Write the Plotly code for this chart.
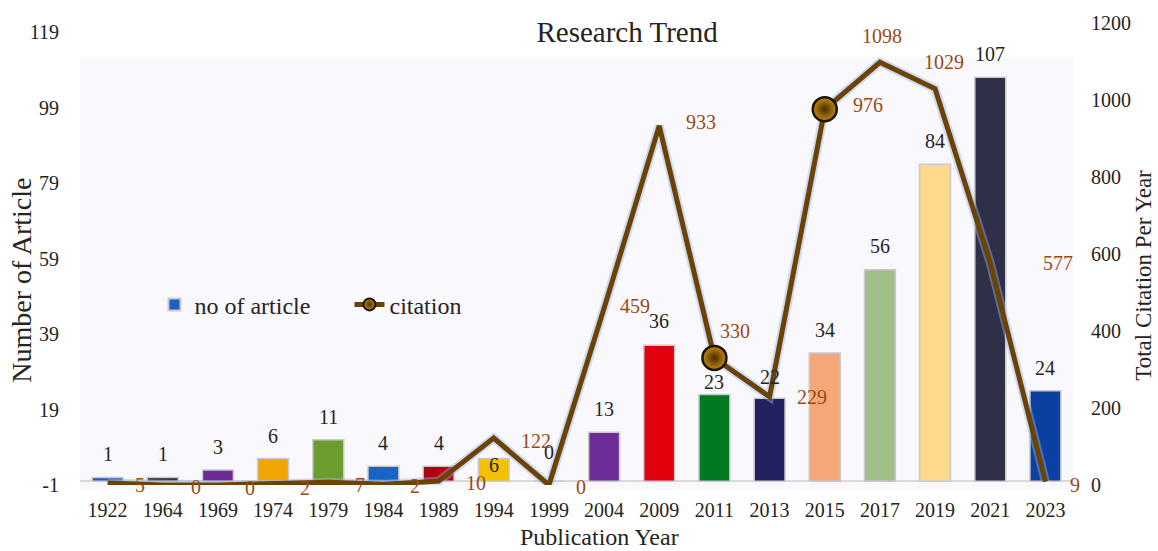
import plotly.graph_objects as go

years = ["1922", "1964", "1969", "1974", "1979", "1984", "1989", "1994", "1999",
         "2004", "2009", "2011", "2013", "2015", "2017", "2019", "2021", "2023"]
articles = [1, 1, 3, 6, 11, 4, 4, 6, 0, 13, 36, 23, 22, 34, 56, 84, 107, 24]
citations = [5, 0, 0, 2, 7, 2, 10, 122, 0, 459, 933, 330, 229, 976, 1098, 1029, 577, 9]
highlighted_years = ["2011", "2015"]
left_ticks = [-1, 19, 39, 59, 79, 99, 119]
right_ticks = [0, 200, 400, 600, 800, 1000, 1200]

bar_colors = ["#1f5fc0", "#2a201c", "#6a2c91", "#f0a500", "#6c9c2e", "#1466c4",
              "#b0000e", "#f2c200", "#888888", "#6d2d99", "#e2000f", "#007a20",
              "#222260", "#f4a878", "#9fbf8a", "#ffd98c", "#2d3047", "#0b3fa0"]

# label offsets (pixels)
bar_dy = [23, 23, 23, 23, 23, 23, 23, -6, 29, 23, 24, 12, 21, 23, 24, 23, 23, 23]
cit_dx = [32, 33, 32, 32, 32, 32, 37, 42, 32, 31, 42, 21, 42, 43, 2, 9, 68, 30]
cit_dy = [-2, -2, -3, -4, -3, -2, -2, -3, -2, 2, 4, 27, 0, 4, 26, 27, 0, -3]

SERIF = "Liberation Serif"
TEXT = "#262420"
LINE_COLOR = "#6b4200"
LABEL_COLOR = "#9a4a12"

fig = go.Figure()

fig.add_trace(go.Bar(
    x=years, y=articles, name="no of article",
    marker=dict(color=bar_colors, line=dict(color="#c9c9cf", width=1.5)),
    width=0.56, yaxis="y",
))

# soft glow under the citation line
fig.add_trace(go.Scatter(
    x=years, y=citations, mode="lines", showlegend=False, hoverinfo="skip",
    line=dict(color="rgba(150,180,235,0.45)", width=9), yaxis="y2",
))

marker_sizes = [24 if y in highlighted_years else 0 for y in years]
fig.add_trace(go.Scatter(
    x=years, y=citations, name="citation", mode="lines+markers",
    line=dict(color=LINE_COLOR, width=5),
    marker=dict(size=marker_sizes, color="#c08a10", opacity=1,
                gradient=dict(type="radial", color="#4a2c00"),
                line=dict(color="#1e1204", width=2.5)),
    yaxis="y2",
))

annotations = []
for i, (v, dy) in enumerate(zip(articles, bar_dy)):
    annotations.append(dict(x=i, y=v, xref="x", yref="y", text=str(v),
                            showarrow=False, yanchor="middle", yshift=dy,
                            font=dict(family=SERIF, size=20, color=TEXT)))
for i, (c, dx, dy) in enumerate(zip(citations, cit_dx, cit_dy)):
    annotations.append(dict(x=i, y=c, xref="x", yref="y2", text=str(c),
                            showarrow=False, xshift=dx, yshift=dy, yanchor="middle",
                            font=dict(family=SERIF, size=20, color=LABEL_COLOR)))
# axis titles
annotations += [
    dict(text="Number of Article", xref="paper", yref="paper", x=0, y=0.442,
         xshift=-58, textangle=-90, showarrow=False, xanchor="center", yanchor="middle",
         font=dict(family=SERIF, size=28, color=TEXT)),
    dict(text="Total Citation Per Year", xref="paper", yref="paper", x=1, y=0.453,
         xshift=71, textangle=-90, showarrow=False, xanchor="center", yanchor="middle",
         font=dict(family=SERIF, size=23, color=TEXT)),
    dict(text="Publication Year", xref="paper", yref="paper", x=0.523, y=-0.113,
         showarrow=False, xanchor="center", yanchor="middle",
         font=dict(family=SERIF, size=24, color=TEXT)),
]

fig.update_layout(
    width=1158, height=551,
    margin=dict(l=80, r=85, t=21, b=66),
    paper_bgcolor="white", plot_bgcolor="white",
    font=dict(family=SERIF, size=20, color=TEXT),
    title=dict(text="Research Trend", x=0.5415, xanchor="center", y=0.942, yanchor="middle",
               font=dict(family=SERIF, size=29, color=TEXT)),
    xaxis=dict(type="category", range=[-0.5, len(years) - 0.5], showgrid=False,
               showline=False,
               ticks="outside", ticklen=7, tickcolor="rgba(0,0,0,0)",
               tickfont=dict(family=SERIF, size=20, color=TEXT)),
    yaxis=dict(range=[-1, 121.4], tickvals=left_ticks, ticktext=[str(t) for t in left_ticks],
               showgrid=False, zeroline=True, zerolinecolor="#d9d9dc", zerolinewidth=2,
               ticks="outside", ticklen=16, tickcolor="rgba(0,0,0,0)",
               tickfont=dict(family=SERIF, size=20, color=TEXT)),
    yaxis2=dict(range=[0, 1200], tickvals=right_ticks, overlaying="y", side="right",
                showgrid=False, zeroline=False,
                ticks="outside", ticklen=13, tickcolor="rgba(0,0,0,0)",
                tickfont=dict(family=SERIF, size=20, color=TEXT)),
    legend=dict(orientation="h", x=0.075, y=0.39, yanchor="middle", xanchor="left",
                entrywidth=150, itemsizing="constant",
                bgcolor="rgba(0,0,0,0)", font=dict(family=SERIF, size=24, color=TEXT)),
    annotations=annotations,
    shapes=[dict(type="rect", xref="paper", yref="paper", x0=0, x1=1, y0=-0.01, y1=0.925,
                 fillcolor="#f8f8fd", line=dict(width=0), layer="below")],
)

fig.write_html("out.html", config={"displayModeBar": False},
               post_script="document.body.style.margin='0px';")
